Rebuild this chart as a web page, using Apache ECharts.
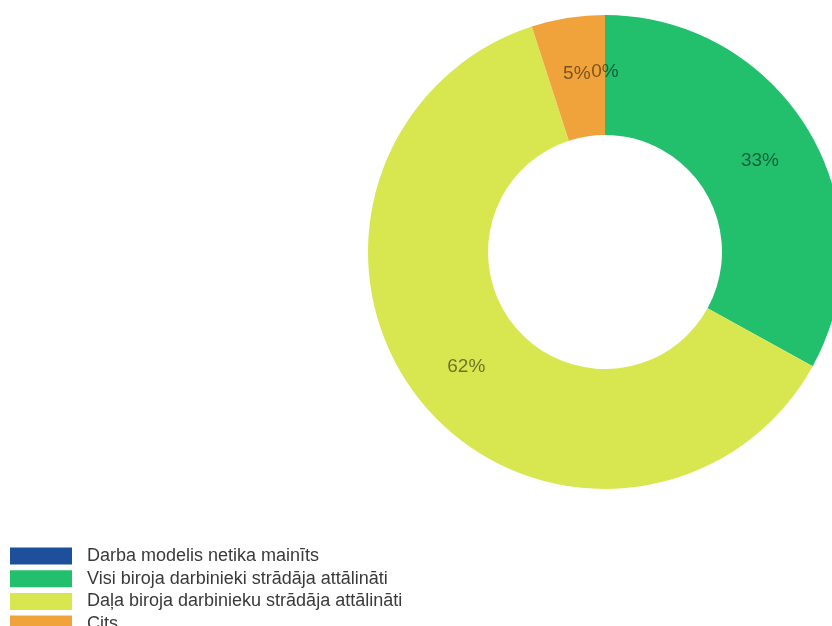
<!DOCTYPE html>
<html>
<head>
<meta charset="utf-8">
<title>Darba modelis</title>
<script src="https://cdn.jsdelivr.net/npm/echarts@6/dist/echarts.min.js"></script>
<style>
  html, body { margin: 0; padding: 0; background: #ffffff; }
  #chart { width: 832px; height: 626px; }
</style>
</head>
<body>
<div id="chart"></div>
<script>
// Survey answers: how the office work model changed
const categories = [
  'Darba modelis netika mainīts',
  'Visi biroja darbinieki strādāja attālināti',
  'Daļa biroja darbinieku strādāja attālināti',
  'Cits'
];
const shares = [0, 33, 62, 5];
const colors = ['#1e4f9b', '#22bf6d', '#d8e74f', '#f1a33b'];

const pieData = categories.map((name, i) => ({ name: name, value: shares[i] }));

const chart = echarts.init(document.getElementById('chart'), null, { renderer: 'canvas' });
chart.setOption({
  animation: false,
  color: colors,
  legend: {
    orient: 'vertical',
    left: 10,
    top: 547,
    height: 300,
    padding: 0,
    icon: 'rect',
    itemWidth: 62,
    itemHeight: 17,
    itemGap: 4.7,
    selectedMode: false,
    textStyle: {
      fontFamily: '"Liberation Sans", Arial, sans-serif',
      fontSize: 18,
      lineHeight: 17,
      color: '#3a3a3a',
      padding: [0, 0, 0, 10]
    },
    data: categories
  },
  series: [{
    type: 'pie',
    center: [605, 252],
    radius: [117, 237],
    startAngle: 90,
    clockwise: true,
    avoidLabelOverlap: false,
    stillShowZeroSum: true,
    label: {
      show: true,
      position: 'inside',
      formatter: '{d}%',
      fontFamily: '"Liberation Sans", Arial, sans-serif',
      fontSize: 19,
      color: 'rgba(0,0,0,0.5)'
    },
    labelLine: { show: false },
    emphasis: { disabled: true },
    data: pieData
  }]
});
</script>
</body>
</html>
